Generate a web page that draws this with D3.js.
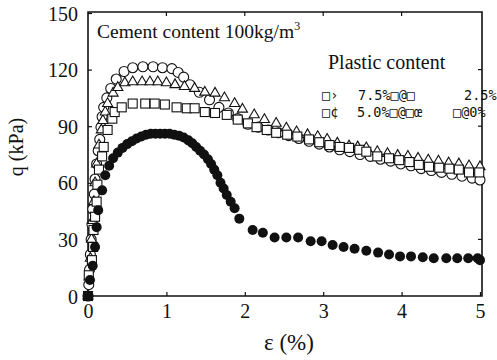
<!DOCTYPE html>
<html>
<head>
<meta charset="utf-8">
<script src="https://cdn.jsdelivr.net/npm/d3@7"></script>
<style>
	body { margin: 0; background: #fff; }
</style>
</head>
<body>
<div id="chart"></div>
<script>
// tick values
const xTicks = [0, 1, 2, 3, 4, 5];
const yTicks = [0, 30, 60, 90, 120, 150];

// series: [strain %, q kPa]
const plastic75 = [[0,0],[0.01,6],[0.02,14],[0.03,22],[0.04,30],[0.05,38],[0.06,46],[0.08,54],[0.09,62],[0.11,70],[0.13,77],[0.15,83],[0.165,89.5],[0.18,95],[0.2,100],[0.24,105],[0.29,110],[0.36,115],[0.46,119],[0.57,121],[0.7,121.5],[0.83,121.5],[0.95,121],[1.07,120.5],[1.15,118.5],[1.22,116],[1.3,112],[1.42,108],[1.55,104],[1.67,100],[1.79,97],[1.91,94],[2.04,91],[2.17,89.5],[2.3,88],[2.43,86.5],[2.56,85],[2.69,83.5],[2.82,82],[2.95,80.5],[3.08,79],[3.21,77.5],[3.34,76.5],[3.47,75],[3.6,74],[3.73,72.5],[3.86,71.5],[3.99,70],[4.12,69],[4.25,67.5],[4.38,66.5],[4.51,65.5],[4.64,64.5],[4.77,63.5],[4.9,62.5],[5.0,61.5]];
const plastic25 = [[0,0],[0.015,10],[0.03,20],[0.045,30],[0.06,40],[0.075,50],[0.09,60],[0.11,70],[0.14,80],[0.17,88],[0.19,93],[0.22,97.5],[0.25,102],[0.32,107.5],[0.38,110.5],[0.47,113],[0.57,113.5],[0.69,113.5],[0.79,113.5],[0.89,113.5],[1.0,113],[1.11,112],[1.23,111],[1.36,110],[1.49,108],[1.62,107.5],[1.74,105],[1.87,102],[1.97,99],[2.12,96],[2.25,93.5],[2.4,91.5],[2.53,89],[2.66,87],[2.8,85.5],[2.93,84.5],[3.05,83],[3.18,81],[3.33,79.5],[3.44,79],[3.55,78.5],[3.69,76.5],[3.82,75.5],[3.95,74.5],[4.08,74],[4.21,73],[4.34,72],[4.47,71.5],[4.6,70.5],[4.73,70],[4.86,69],[5.0,68.5]];
const plastic50 = [[0,0],[0.01,11],[0.05,19],[0.065,26],[0.07,35],[0.09,42],[0.11,50],[0.12,59],[0.14,67],[0.18,74],[0.2,79],[0.25,88],[0.31,94],[0.34,97.5],[0.43,100],[0.57,102],[0.73,102],[0.85,102],[0.98,101.5],[1.13,100],[1.26,99.5],[1.36,99.5],[1.49,97.5],[1.62,97],[1.77,96],[1.91,93.5],[2.04,91.5],[2.15,89.5],[2.28,88],[2.4,86.5],[2.54,85.5],[2.67,84.5],[2.82,83],[2.95,81.5],[3.08,80],[3.21,79],[3.33,78.5],[3.46,77.5],[3.55,76.5],[3.69,74],[3.84,73],[3.97,72],[4.1,71],[4.22,69.5],[4.35,68.5],[4.48,68],[4.61,67.5],[4.73,67],[4.86,65.5],[4.99,65.5]];
const plastic0 = [[0,0],[0.025,8.5],[0.06,16],[0.09,26],[0.11,36.5],[0.13,45.5],[0.18,56],[0.22,64],[0.27,69],[0.32,73],[0.38,76],[0.44,78.5],[0.5,80.5],[0.56,82],[0.62,83.5],[0.68,84.5],[0.74,85.5],[0.8,86],[0.86,86],[0.92,86],[0.98,86],[1.04,86],[1.1,85.5],[1.16,85],[1.22,84],[1.28,82.5],[1.33,81],[1.38,79],[1.43,77],[1.48,75],[1.53,72.5],[1.57,70],[1.61,67],[1.65,64],[1.69,60],[1.73,57],[1.77,53.5],[1.82,50],[1.87,46.5],[1.93,41],[2.1,35],[2.23,33.5],[2.38,31],[2.53,31],[2.68,31],[2.84,29],[2.98,29],[3.12,27],[3.26,26],[3.4,25],[3.55,24],[3.7,23],[3.84,22],[3.98,21],[4.12,21],[4.27,20.5],[4.41,20],[4.57,20],[4.71,20],[4.85,20],[4.97,20],[5.0,19]];

const width = 497, height = 360;
const margin = { top: 13, right: 17, bottom: 64, left: 88 };
const serif = "'Liberation Serif', 'Times New Roman', serif";
const mono = "'DejaVu Sans Mono', monospace";

const svg = d3.select('#chart').append('svg')
	.attr('width', width)
	.attr('height', height);

svg.append('rect').attr('width', width).attr('height', height).attr('fill', '#fff');

const xScale = d3.scaleLinear().domain([0, 5]).range([margin.left, 480]);
const yScale = d3.scaleLinear().domain([0, 150]).range([296, margin.top]);

// frame
const x0 = xScale(0), x1 = xScale(5) + 2, y0 = yScale(0), y1 = yScale(150) - 1;
svg.append('path')
	.attr('d', `M${x0},${y1}H${x1}V${y0}H${x0}Z`)
	.attr('fill', 'none')
	.attr('stroke', '#111')
	.attr('stroke-width', 1.6);

// axes, ticks inward
const xAxis = d3.axisBottom(xScale).tickValues(xTicks).tickFormat(d3.format('d')).tickSize(-4).tickPadding(8);
const yAxis = d3.axisLeft(yScale).tickValues(yTicks).tickFormat(d3.format('d')).tickSize(-4).tickPadding(10);

const xAxisG = svg.append('g').attr('transform', `translate(0, ${y0})`).call(xAxis);
const yAxisG = svg.append('g').attr('transform', `translate(${x0}, 0)`).call(yAxis);
[xAxisG, yAxisG].forEach(g => {
	g.attr('font-family', null).attr('font-size', null);
	g.select('.domain').remove();
	g.selectAll('line').attr('stroke', '#111').attr('stroke-width', 1.2);
	g.selectAll('text')
		.style('font-family', serif)
		.style('font-size', '20px')
		.attr('fill', '#111');
});
yAxisG.selectAll('text').attr('dy', '0.35em');

// ticks on the right and top sides
svg.append('g').selectAll('line').data(yTicks.slice(1, -1)).join('line')
	.attr('x1', x1).attr('x2', x1 - 4)
	.attr('y1', d => yScale(d)).attr('y2', d => yScale(d))
	.attr('stroke', '#111').attr('stroke-width', 1.2);
svg.append('g').selectAll('line').data(xTicks.slice(1, -1)).join('line')
	.attr('y1', y1).attr('y2', y1 + 4)
	.attr('x1', d => xScale(d)).attr('x2', d => xScale(d))
	.attr('stroke', '#111').attr('stroke-width', 1.2);

// axis titles
svg.append('text')
	.attr('text-anchor', 'middle')
	.attr('transform', 'translate(23, 147) rotate(-90)')
	.style('font-family', serif)
	.style('font-size', '20px')
	.attr('fill', '#111')
	.text('q (kPa)');

svg.append('text')
	.attr('text-anchor', 'middle')
	.attr('x', 289)
	.attr('y', 350)
	.style('font-family', serif)
	.style('font-size', '23px')
	.attr('fill', '#111')
	.text('ε (%)');

// plot markers
const plot = svg.append('g');
const stroke = '#111';

plot.selectAll('.c75').data(plastic75).join('circle')
	.attr('class', 'c75')
	.attr('cx', d => xScale(d[0]))
	.attr('cy', d => yScale(d[1]))
	.attr('r', 5)
	.attr('fill', '#fff')
	.attr('stroke', stroke)
	.attr('stroke-width', 1.1);

const tri = d3.symbol().type(d3.symbolTriangle).size(44);
plot.selectAll('.t25').data(plastic25).join('path')
	.attr('class', 't25')
	.attr('d', tri)
	.attr('transform', d => `translate(${xScale(d[0])}, ${yScale(d[1])})`)
	.attr('fill', '#fff')
	.attr('stroke', stroke)
	.attr('stroke-width', 1.1);

plot.selectAll('.s50').data(plastic50).join('rect')
	.attr('class', 's50')
	.attr('x', d => xScale(d[0]) - 4.5)
	.attr('y', d => yScale(d[1]) - 4.5)
	.attr('width', 9)
	.attr('height', 9)
	.attr('fill', '#fff')
	.attr('stroke', stroke)
	.attr('stroke-width', 1.1);

plot.selectAll('.f0').data(plastic0).join('circle')
	.attr('class', 'f0')
	.attr('cx', d => xScale(d[0]))
	.attr('cy', d => yScale(d[1]))
	.attr('r', 5)
	.attr('fill', '#111');

// origin marker
plot.append('rect')
	.attr('x', xScale(0) - 5).attr('y', yScale(0) - 5)
	.attr('width', 10).attr('height', 10)
	.attr('fill', '#111');

// annotations
const note = svg.append('text')
	.attr('x', 97)
	.attr('y', 38)
	.style('font-family', serif)
	.style('font-size', '19.5px')
	.attr('fill', '#111');
note.append('tspan').text('Cement content 100kg/m');
note.append('tspan').attr('dy', -8).style('font-size', '12px').text('3');

svg.append('text')
	.attr('x', 328)
	.attr('y', 69)
	.style('font-family', serif)
	.style('font-size', '20px')
	.attr('fill', '#111')
	.text('Plastic content');

const legendRows = [
	[['□›', 322], ['7.5%□@□', 358], ['2.5%', 464]],
	[['□¢', 322], ['5.0%□@□œ', 357], ['□@0%', 453]]
];
legendRows.forEach((row, i) => {
	svg.append('g').selectAll('text').data(row).join('text')
		.attr('x', d => d[1])
		.attr('y', 100 + i * 17)
		.style('font-family', mono)
		.style('font-size', '13.5px')
		.attr('fill', '#111')
		.text(d => d[0]);
});
</script>
</body>
</html>
